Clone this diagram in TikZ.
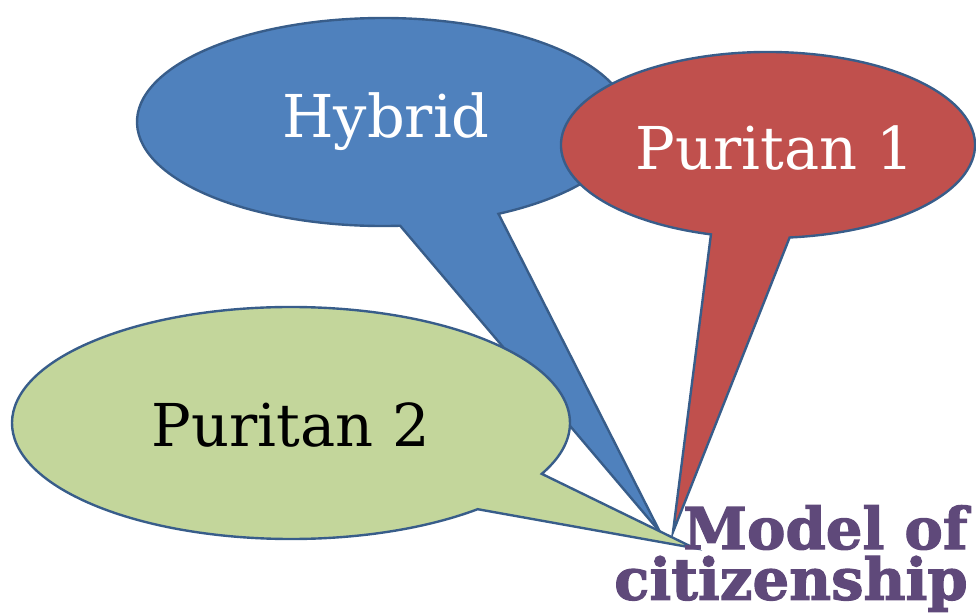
\documentclass[tikz,border=0pt]{standalone}
\usepackage{fontspec}
\setmainfont{DejaVu Serif}
\newfontfamily\titlefont{DejaVu Serif}[BoldFeatures={FakeBold=2}]
\usetikzlibrary{positioning}
\definecolor{BubbleBlue}{RGB}{79, 129, 189}
\definecolor{BubbleRed}{RGB}{192, 80, 77}
\definecolor{BubbleGreen}{RGB}{195, 214, 155}
\definecolor{EdgeBlue}{RGB}{56, 93, 138}
\definecolor{TitlePurple}{RGB}{95, 73, 122}

\begin{document}
\begin{tikzpicture}[x=0.025cm, y=-0.025cm,
    bubble/.style={draw=EdgeBlue, line width=1.7pt, line join=miter},
    bubbletext/.style={font=\fontsize{42}{48}\selectfont, inner sep=0pt},
    titletext/.style={font=\fontsize{41}{36}\selectfont\titlefont\bfseries, text=TitlePurple, inner sep=0pt, align=right}]
    \useasboundingbox (0,0) rectangle (976,616);

    % Hybrid bubble
    \coordinate (hybrid tip) at (660,532);
    \draw[bubble, fill=BubbleBlue] (hybrid tip) -- ([shift={(383,122)}]86:246 and 104)
        arc[start angle=86, end angle=422, x radius=246, y radius=104] -- cycle;
    \node[bubbletext, text=white] (hybrid) at (386,122) {Hybrid};

    % Puritan 1 bubble
    \coordinate (puritan1 tip) at (673,532);
    \draw[bubble, fill=BubbleRed] (puritan1 tip) -- ([shift={(768,145)}]106:207 and 93)
        arc[start angle=106, end angle=444, x radius=207, y radius=93] -- cycle;
    \node[bubbletext, text=white] (puritan1) at (775,148) {Puritan 1};

    % Puritan 2 bubble
    \coordinate (puritan2 tip) at (694,548);
    \draw[bubble, fill=BubbleGreen] (puritan2 tip) -- ([shift={(291,423)}]48:279 and 116)
        arc[start angle=48, end angle=386, x radius=279, y radius=116] -- cycle;
    \node[bubbletext, text=black] (puritan2) at (291,425) {Puritan 2};

    % Title
    \node[titletext, anchor=north east] (title) at (968,505) {Model of\\citizenship};
\end{tikzpicture}
\end{document}
